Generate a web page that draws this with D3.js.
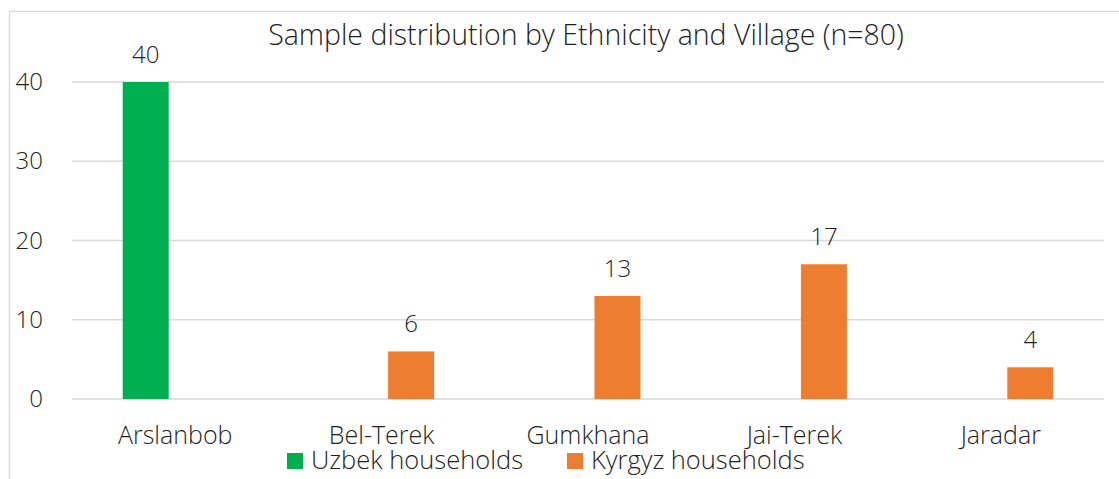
<!DOCTYPE html>
<html lang="en">
  <head>
    <meta charset="utf-8">
    <title>Sample distribution</title>
    <script src="https://d3js.org/d3.v7.min.js"></script>
    <style>
      body { margin: 0; background: #fff; }
      text { font-family: "Open Sans", "Noto Sans", sans-serif; font-weight: 300; fill: #1f1f1f; }
    </style>
  </head>
  <body>
  <div id="chart"></div>
  <script>
  // data
  var villages = ["Arslanbob", "Bel-Terek", "Gumkhana", "Jai-Terek", "Jaradar"];
  var seriesNames = ["Uzbek households", "Kyrgyz households"];
  var uzbek = [40, 0, 0, 0, 0];
  var kyrgyz = [0, 6, 13, 17, 4];
  var yTicks = [0, 10, 20, 30, 40];
  var colors = ["#00b050", "#ed7d31"];

  var w = 1119, h = 479;
  var margin = {top: 82, right: 15, bottom: 80, left: 72};
  var innerWidth = w - margin.left - margin.right;   // 1032
  var innerHeight = h - margin.top - margin.bottom;  // 317

  var svg = d3.select("#chart").append("svg")
    .attr("width", w)
    .attr("height", h);

  // chart frame (cropped on right & bottom)
  svg.append("rect")
    .attr("x", 9.5).attr("y", 11.5)
    .attr("width", w + 20).attr("height", h + 20)
    .attr("fill", "none")
    .attr("stroke", "#d9d9d9")
    .attr("stroke-width", 1.3);

  var g = svg.append("g")
    .attr("transform", `translate(${margin.left}, ${margin.top})`);

  var x0 = d3.scaleBand().domain(villages).range([0, innerWidth]);
  var x1 = d3.scaleBand().domain(seriesNames)
    .range([x0.bandwidth() / 2 - 52.5, x0.bandwidth() / 2 + 52.5])
    .paddingInner(0.22);
  var y = d3.scaleLinear().domain([0, 40]).range([innerHeight, 0]);

  // gridlines
  g.selectAll(".grid").data(yTicks).enter().append("line")
    .attr("x1", 0).attr("x2", innerWidth)
    .attr("y1", d => y(d)).attr("y2", d => y(d))
    .attr("stroke", "#d9d9d9")
    .attr("stroke-width", 1.3);

  // y axis
  var yAxis = d3.axisLeft(y).tickValues(yTicks).tickSize(0).tickPadding(29);
  g.append("g").attr("class", "yAxis").call(yAxis)
    .call(s => s.select(".domain").remove())
    .selectAll("text")
      .style("font-size", "24px")
      .attr("fill", "#1f1f1f");

  // x axis
  var xAxis = d3.axisBottom(x0).tickSize(0).tickPadding(27);
  g.append("g").attr("class", "xAxis")
    .attr("transform", `translate(0, ${innerHeight})`)
    .call(xAxis)
    .call(s => s.select(".domain").remove())
    .selectAll("text")
      .style("font-size", "25px")
      .attr("fill", "#1f1f1f");

  // bars
  var rows = villages.map(function(v, i) {
    return {village: v, values: [uzbek[i], kyrgyz[i]]};
  });

  var groups = g.selectAll(".group").data(rows).enter().append("g")
    .attr("transform", d => `translate(${x0(d.village)}, 0)`);

  groups.selectAll("rect")
    .data(d => d.values.map((v, j) => ({name: seriesNames[j], value: v, color: colors[j]})))
    .enter().append("rect")
    .attr("x", d => x1(d.name))
    .attr("width", x1.bandwidth())
    .attr("y", d => y(d.value))
    .attr("height", d => innerHeight - y(d.value))
    .attr("fill", d => d.color);

  groups.selectAll(".lbl")
    .data(d => d.values.map((v, j) => ({name: seriesNames[j], value: v})).filter(d => d.value > 0))
    .enter().append("text")
    .attr("class", "lbl")
    .attr("x", d => x1(d.name) + x1.bandwidth() / 2)
    .attr("y", d => y(d.value) - 19)
    .attr("text-anchor", "middle")
    .style("font-size", "24px")
    .text(d => d.value);

  // title
  svg.append("text")
    .attr("x", 586).attr("y", 45)
    .attr("text-anchor", "middle")
    .style("font-size", "28.5px")
    .text("Sample distribution by Ethnicity and Village (n=80)");

  // legend
  var legendX = [287, 567];
  var legend = svg.selectAll(".legend").data(seriesNames).enter().append("g")
    .attr("transform", (d, i) => `translate(${legendX[i]}, 453)`);
  legend.append("rect")
    .attr("width", 16).attr("height", 16)
    .attr("fill", (d, i) => colors[i]);
  legend.append("text")
    .attr("x", 24).attr("y", 16)
    .style("font-size", "25.5px")
    .text(d => d);
  </script>
  </body>
</html>
